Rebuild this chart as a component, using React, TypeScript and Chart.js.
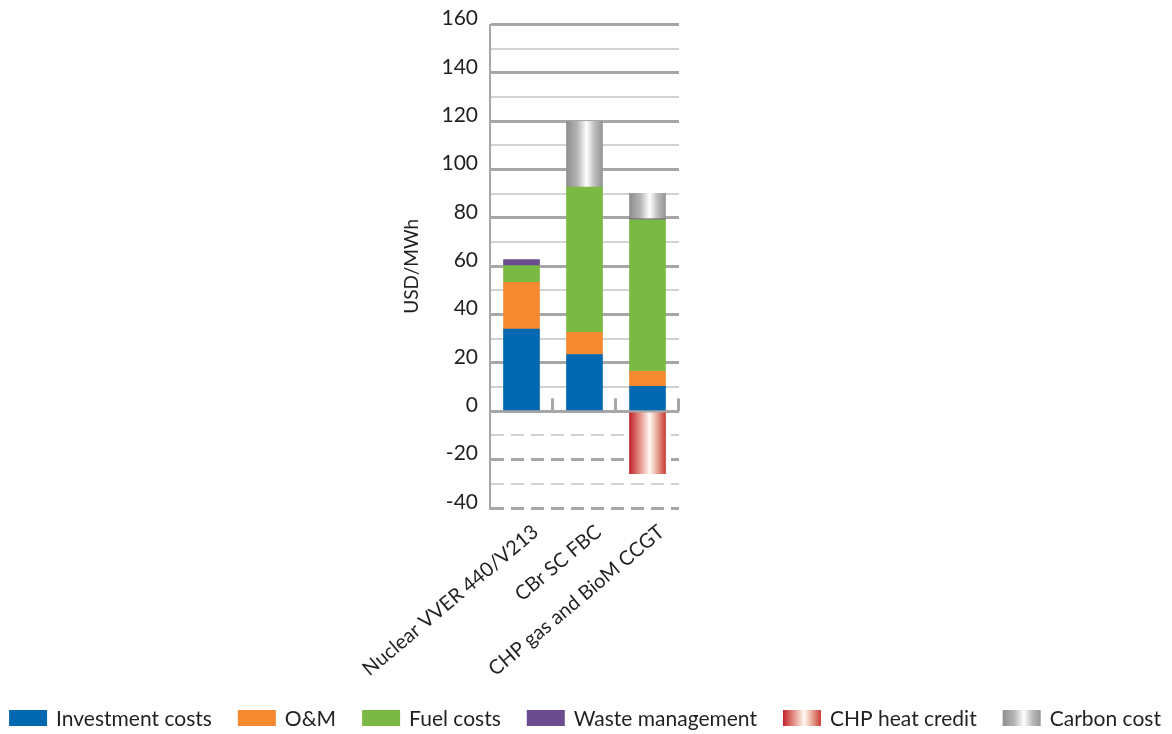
import React, { useEffect, useRef } from 'react';
import { Chart, registerables } from 'chart.js';

Chart.register(...registerables);

// ---------- data ----------
const categories = ['Nuclear VVER 440/V213', 'CBr SC FBC', 'CHP gas and BioM CCGT'];
const investmentCosts = [34, 23.5, 10.3];
const omCosts = [19.4, 9.2, 6.2];
const fuelCosts = [6.9, 60.1, 62.8];
const wasteManagement = [2.5, null, 0.3];
const chpHeatCredit = [null, null, -25.8];
const carbonCost = [null, 27.2, 10.6];

const yMin = -40;
const yMax = 160;
const yStep = 10;
const yLabelStep = 20;
const yTitle = 'USD/MWh';

// ---------- style ----------
const TEXT = '#231f20';
const MAJOR = '#a7a7a7';
const MINOR = '#d2d2d2';
const FONT = 'Lato';
const BAR_W = 36;

const carbonStops: [number, string][] = [
  [0, '#8f8f8f'],
  [0.3, '#b4b4b4'],
  [0.56, '#ffffff'],
  [0.78, '#bcbcbc'],
  [1, '#959595'],
];
const heatStops: [number, string][] = [
  [0, '#c1222b'],
  [0.28, '#e28f84'],
  [0.56, '#fff9f3'],
  [0.8, '#e39a88'],
  [1, '#cc3b33'],
];

function barGradient(stops: [number, string][], fallback: string) {
  return (ctx: any) => {
    if (ctx.type !== 'data') return fallback;
    const chart = ctx.chart;
    const xs = chart.scales && chart.scales.x;
    if (!xs) return fallback;
    const cx = xs.getPixelForValue(ctx.dataIndex);
    if (!Number.isFinite(cx)) return fallback;
    const g = chart.ctx.createLinearGradient(cx - BAR_W / 2, 0, cx + BAR_W / 2, 0);
    stops.forEach(([o, c]) => g.addColorStop(o, c));
    return g;
  };
}

const legendGradients: Record<number, [number, string][]> = { 4: heatStops, 5: carbonStops };
const solidLegend: Record<number, string> = { 0: '#0067b1', 1: '#f58a31', 2: '#7ab943', 3: '#6a4c8f' };

// legend geometry
const LEG_BOX_W = 38;
const LEG_BOX_H = 16;
const LEG_TEXT_GAP = 9;
const LEG_ITEM_GAP = 26;
const LEG_Y = 718;
const LEG_FONT = `21px ${FONT}`;

const overlayPlugin = {
  id: 'overlayPlugin',
  beforeDatasetsDraw(chart: any) {
    const { ctx } = chart;
    const xs = chart.scales.x;
    const ys = chart.scales.y;
    const y0 = ys.getPixelForValue(0);
    const step = xs.getPixelForValue(1) - xs.getPixelForValue(0);
    ctx.save();
    ctx.strokeStyle = MAJOR;
    ctx.lineWidth = 3;
    categories.forEach((_, i) => {
      const xb = Math.round(xs.getPixelForValue(i) + step / 2) - 0.5;
      ctx.beginPath();
      ctx.moveTo(xb, y0);
      ctx.lineTo(xb, y0 - 13);
      ctx.stroke();
    });
    ctx.restore();
  },
  afterDraw(chart: any) {
    const { ctx } = chart;
    const ds = chart.data.datasets;
    ctx.save();
    ctx.font = LEG_FONT;
    const widths = ds.map((d: any) => LEG_BOX_W + LEG_TEXT_GAP + ctx.measureText(d.label).width);
    const total = widths.reduce((a: number, b: number) => a + b, 0) + LEG_ITEM_GAP * (ds.length - 1);
    let x = (chart.width - total) / 2 - 1;
    ds.forEach((d: any, i: number) => {
      const top = LEG_Y - LEG_BOX_H / 2;
      const stops = legendGradients[i];
      if (stops) {
        const g = ctx.createLinearGradient(x, 0, x + LEG_BOX_W, 0);
        stops.forEach(([o, c]) => g.addColorStop(o, c));
        ctx.fillStyle = g;
      } else {
        ctx.fillStyle = solidLegend[i];
      }
      ctx.fillRect(x, top, LEG_BOX_W, LEG_BOX_H);
      ctx.fillStyle = TEXT;
      ctx.textBaseline = 'middle';
      ctx.textAlign = 'left';
      ctx.fillText(d.label, x + LEG_BOX_W + LEG_TEXT_GAP, LEG_Y + 1);
      x += widths[i] + LEG_ITEM_GAP;
    });
    ctx.restore();
  },
};

export default function App() {
  const ref = useRef<HTMLCanvasElement>(null);

  useEffect(() => {
    if (!ref.current) return;
    Chart.defaults.font.family = FONT;
    Chart.defaults.color = TEXT;

    const common = { stack: 's', borderWidth: 0, barThickness: BAR_W };
    const chart = new Chart(ref.current, {
      type: 'bar',
      data: {
        labels: categories,
        datasets: [
          { ...common, label: 'Investment costs', data: investmentCosts, backgroundColor: solidLegend[0] },
          { ...common, label: 'O&M', data: omCosts, backgroundColor: solidLegend[1] },
          { ...common, label: 'Fuel costs', data: fuelCosts, backgroundColor: solidLegend[2] },
          { ...common, label: 'Waste management', data: wasteManagement, backgroundColor: solidLegend[3] },
          { ...common, label: 'CHP heat credit', data: chpHeatCredit, backgroundColor: barGradient(heatStops, '#d0463f') },
          { ...common, label: 'Carbon cost', data: carbonCost, backgroundColor: barGradient(carbonStops, '#a8a8a8') },
        ] as any,
      },
      options: {
        responsive: false,
        animation: false,
        layout: { padding: { top: 23, bottom: 0, left: 0, right: 0 } },
        plugins: {
          tooltip: { enabled: false },
          legend: { display: false },
        },
        scales: {
          x: {
            stacked: true,
            grid: { display: false, drawTicks: false },
            border: { display: false },
            ticks: {
              autoSkip: false,
              maxRotation: 40,
              minRotation: 40,
              padding: 12,
              labelOffset: 14,
              color: TEXT,
              font: { family: FONT, size: 20 },
            },
            afterFit: (s: any) => { s.height = 226; },
          },
          y: {
            stacked: true,
            min: yMin,
            max: yMax,
            ticks: {
              stepSize: yStep,
              autoSkip: false,
              padding: 12,
              labelOffset: -6,
              color: TEXT,
              font: { family: FONT, size: 21 },
              callback: (v: any) => (Number(v) % yLabelStep === 0 ? String(v) : ''),
            },
            grid: {
              drawTicks: false,
              color: (c: any) => (c.tick && c.tick.value % yLabelStep === 0 ? MAJOR : MINOR),
              lineWidth: (c: any) => (c.tick && c.tick.value % yLabelStep === 0 ? 3 : 2),
            },
            border: {
              display: true,
              color: MAJOR,
              width: 2,
              dash: (c: any) => (c.tick && c.tick.value < 0 ? [13, 7] : []),
            },
            title: {
              display: true,
              text: yTitle,
              color: TEXT,
              font: { family: FONT, size: 19 },
              padding: { top: 400, bottom: 0 },
            },
            afterFit: (s: any) => { s.width = 490; },
          },
          y2: {
            position: 'right',
            display: true,
            grid: { display: false, drawTicks: false },
            border: { display: false },
            ticks: { display: false },
            afterFit: (s: any) => { s.width = 493; },
          },
        },
      } as any,
      plugins: [overlayPlugin],
    });
    return () => chart.destroy();
  }, []);

  return (
    <div style={{ position: 'absolute', left: 0, top: 0, width: 1172, height: 734, background: '#fff' }}>
      <canvas ref={ref} width={1172} height={734} />
    </div>
  );
}
